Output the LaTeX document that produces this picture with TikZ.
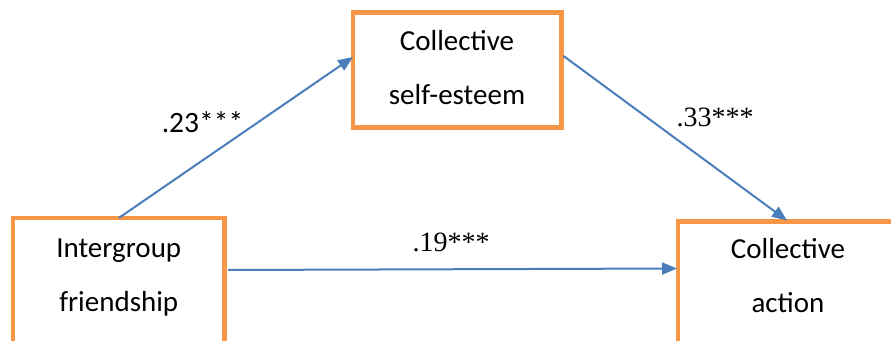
\documentclass[tikz,border=0pt]{standalone}
\usepackage{fontspec}
\setmainfont{Carlito}
\newfontfamily\serifnum{Liberation Serif}
\usetikzlibrary{arrows.meta,calc}
\definecolor{boxorange}{HTML}{F79646}
\definecolor{arrowblue}{HTML}{4A7EBB}
\tikzset{
  varbox/.style={draw=boxorange, line width=4.5pt, fill=white, rectangle, inner sep=0pt, outer sep=0pt, anchor=north west},
  boxtext/.style={align=center, font=\fontsize{29}{54}\selectfont, inner sep=0pt, anchor=base},
  path/.style={draw=arrowblue, line width=2pt, -{Triangle[length=15pt,width=12pt]}},
  coef/.style={font=\fontsize{29.5}{34}\selectfont, inner sep=0pt, anchor=base},
  coefserif/.style={font=\serifnum\fontsize{28}{34}\selectfont, inner sep=0pt, anchor=base}
}
\begin{document}
\begin{tikzpicture}[x=1pt,y=-1pt]
\clip (0,0) rectangle (891,340);
\fill[white] (0,0) rectangle (891,340);
\node[varbox, minimum width=211.5pt, minimum height=200pt] (A) at (13,218) {};
\node[varbox, minimum width=208.5pt, minimum height=115pt] (B) at (353,12.5) {};
\node[varbox, minimum width=250pt, minimum height=200pt] (C) at (678,221.5) {};
\node[boxtext] (At) at (118.75,311) {Intergroup\\friendship};
\node[boxtext] (Bt) at (457,104) {Collective\\self-esteem};
\node[boxtext] (Ct) at (788,312) {Collective\\action};
\coordinate (Bin) at ($(B.north west)+(0,44.5)$);
\coordinate (Bout) at ($(B.north east)+(2,43.5)$);
\coordinate (Cin) at ($(C.north west)+(109,-1)$);
\coordinate (Cleft) at ($(C.north west)+(-1,47)$);
\coordinate (Aout) at ($(A.north east)+(3.5,52)$);
\draw[path] (A.north) -- (Bin);
\draw[path] (Bout) -- (Cin);
\draw[path] (Aout) -- (Cleft);
\node[coef] (c1) at (202.5,132) {.23***};
\node[coefserif] (c2) at (715,126) {.33***};
\node[coefserif] (c3) at (451,251.5) {.19***};
\end{tikzpicture}
\end{document}
